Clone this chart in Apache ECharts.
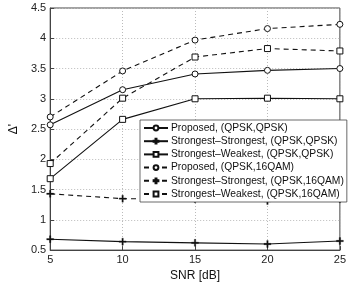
<!DOCTYPE html>
<html><head><meta charset="utf-8">
<script src="https://cdn.jsdelivr.net/npm/echarts@6/dist/echarts.min.js"></script>
<style>html,body{margin:0;padding:0;background:#fff}#c{width:349px;height:287px}</style>
</head><body><div id="c"></div>
<script>
const snr = [5, 10, 15, 20, 25];
const propQPSK = [2.57, 3.15, 3.41, 3.47, 3.50];
const ssQPSK = [0.68, 0.64, 0.62, 0.60, 0.65];
const swQPSK = [1.68, 2.66, 3.00, 3.01, 3.00];
const prop16 = [2.70, 3.46, 3.97, 4.16, 4.23];
const ss16 = [1.43, 1.35, 1.34, 1.31, 1.34];
const sw16 = [1.93, 3.01, 3.69, 3.83, 3.79];
const names = [
  'Proposed, (QPSK,QPSK)',
  'Strongest\u2013Strongest, (QPSK,QPSK)',
  'Strongest\u2013Weakest, (QPSK,QPSK)',
  'Proposed, (QPSK,16QAM)',
  'Strongest\u2013Strongest, (QPSK,16QAM)',
  'Strongest\u2013Weakest, (QPSK,16QAM)'
];
const xTicks = [5, 10, 15, 20, 25];
const yTicks = [0.5, 1, 1.5, 2, 2.5, 3, 3.5, 4, 4.5];

const plus = 'path://M4,0h2v4h4v2h-4v4h-2v-4h-4v-2h4z';
function mk(name, vals, symbol, dashed, size, fill, bw) {
  return {
    name: name, type: 'line', data: snr.map((x, i) => [x, vals[i]]),
    symbol: symbol, symbolSize: size, showSymbol: true, showAllSymbol: true,
    z: 3,
    lineStyle: { color: '#111', width: 1.1, type: dashed ? [5, 4] : 'solid' },
    itemStyle: { color: fill, borderColor: '#111', borderWidth: bw, opacity: 1 },
    emphasis: { disabled: true }
  };
}
const chart = echarts.init(document.getElementById('c'), null, { renderer: 'canvas' });
const ff = '"Liberation Sans", Arial, sans-serif';
chart.setOption({
  animation: false,
  grid: { left: 37, right: 8, top: 8, bottom: 30, show: true, borderColor: '#444', borderWidth: 1 },
  legend: {
    orient: 'vertical', left: 140, top: 120, itemWidth: 24, itemHeight: 6, itemGap: 3.2,
    padding: [3, 3, 3, 3], backgroundColor: '#fff', borderColor: '#444', borderWidth: 0.8,
    textStyle: { fontFamily: ff, fontSize: 10.3, color: '#111', padding: [0, 0, 0, -2] },
    data: names
  },
  xAxis: {
    type: 'value', min: 5, max: 25, interval: 5,
    name: 'SNR [dB]', nameLocation: 'middle', nameGap: 19,
    nameTextStyle: { fontFamily: ff, fontSize: 12, color: '#111' },
    axisLine: { lineStyle: { color: '#444' } },
    axisTick: { inside: true, length: 4, lineStyle: { color: '#444' } },
    axisLabel: { fontFamily: ff, fontSize: 11, color: '#222', margin: 4,
      formatter: v => xTicks.includes(v) ? String(v) : '' },
    splitLine: { show: true, lineStyle: { color: '#bbb', type: [1, 2], width: 1 } }
  },
  yAxis: {
    type: 'value', min: 0.5, max: 4.5, interval: 0.5,
    name: "\u0394'", nameLocation: 'middle', nameGap: 26, nameRotate: 90,
    nameTextStyle: { fontFamily: ff, fontSize: 12, color: '#111' },
    axisLine: { lineStyle: { color: '#444' } },
    axisTick: { inside: true, length: 4, lineStyle: { color: '#444' } },
    axisLabel: { fontFamily: ff, fontSize: 11, color: '#222', margin: 4,
      formatter: v => yTicks.includes(v) ? String(v) : '' },
    splitLine: { show: true, lineStyle: { color: '#bbb', type: [1, 2], width: 1 } }
  },
  series: [
    mk(names[0], propQPSK, 'circle', false, 6, '#fff', 1),
    mk(names[1], ssQPSK, plus, false, 7, '#111', 0.3),
    mk(names[2], swQPSK, 'rect', false, 6, '#fff', 1),
    mk(names[3], prop16, 'circle', true, 6, '#fff', 1),
    mk(names[4], ss16, plus, true, 7, '#111', 0.3),
    mk(names[5], sw16, 'rect', true, 6, '#fff', 1)
  ]
});
</script></body></html>
